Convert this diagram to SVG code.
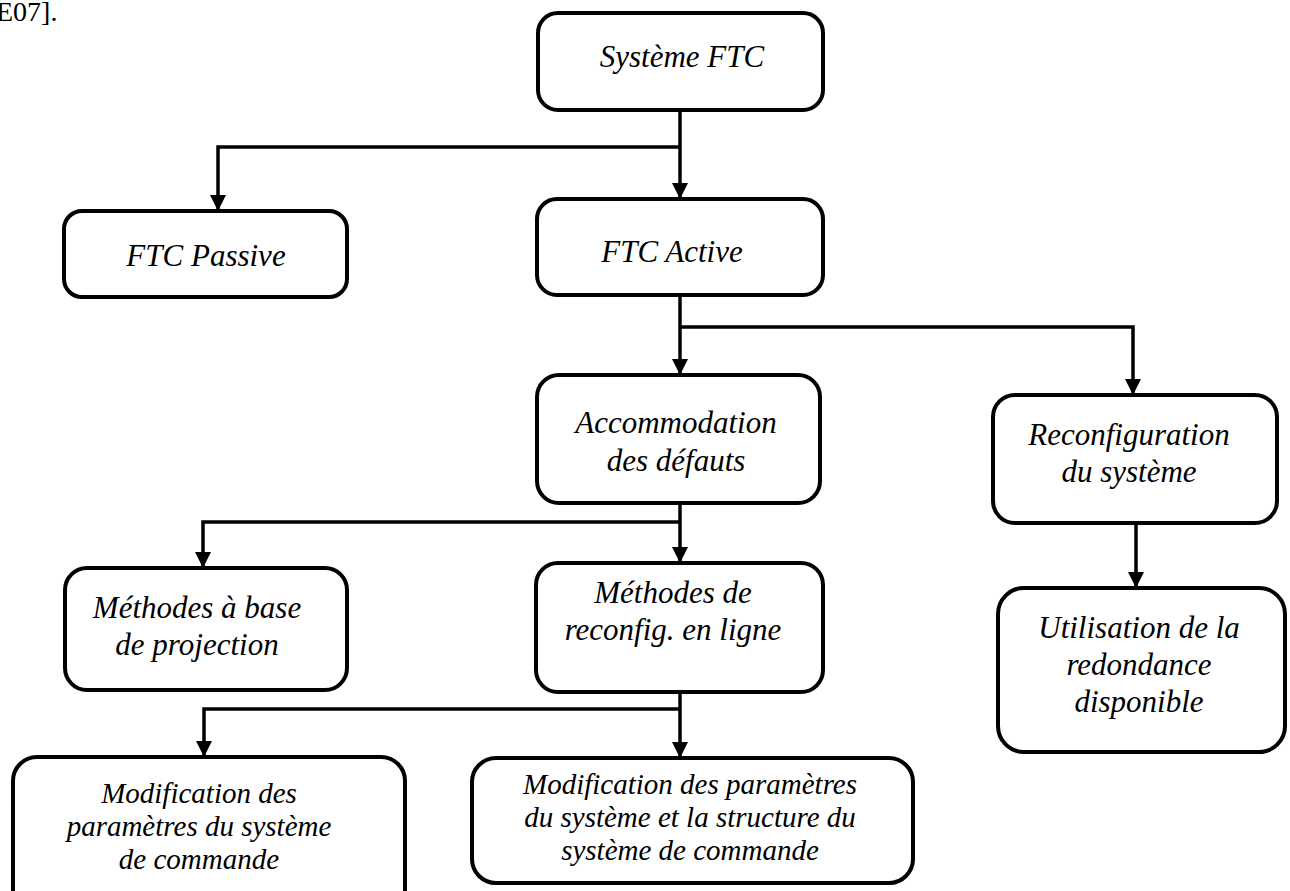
<svg xmlns="http://www.w3.org/2000/svg" width="1290" height="891" viewBox="0 0 1290 891">
  <style>
    .box { fill: #ffffff; stroke: #000000; stroke-width: 4; }
    .lbl { font-family: "Liberation Serif", "Times New Roman", "DejaVu Serif", serif; font-style: italic; font-size: 31px; fill: #000000; text-anchor: middle; }
    .sm { font-size: 29px; }
    .plain { font-family: "Liberation Serif", "Times New Roman", serif; font-size: 28px; fill: #000000; }
    .wire { fill: none; stroke: #000000; stroke-width: 3.5; }
  </style>
  <defs>
    <marker id="arrow" markerUnits="userSpaceOnUse" markerWidth="18" markerHeight="18" refX="16" refY="8" orient="auto">
      <path d="M0,0 L16,8 L0,16 z" fill="#000000"/>
    </marker>
  </defs>
  <rect width="1290" height="891" fill="#ffffff"/>

  <text class="plain" x="-4" y="21">E07].</text>

  <!-- connectors: trunk lines with side branches, each ending in an arrowhead -->
  <g id="connectors">
    <line class="wire" x1="680" y1="110" x2="680" y2="199" marker-end="url(#arrow)"/>
    <polyline class="wire" points="680,147 218,147 218,211" marker-end="url(#arrow)"/>
    <line class="wire" x1="680" y1="295" x2="680" y2="375" marker-end="url(#arrow)"/>
    <polyline class="wire" points="680,327 1133,327 1133,395" marker-end="url(#arrow)"/>
    <line class="wire" x1="680" y1="503" x2="680" y2="563" marker-end="url(#arrow)"/>
    <polyline class="wire" points="680,522 203,522 203,568" marker-end="url(#arrow)"/>
    <line class="wire" x1="680" y1="692" x2="680" y2="758" marker-end="url(#arrow)"/>
    <polyline class="wire" points="680,709 204,709 204,757" marker-end="url(#arrow)"/>
    <line class="wire" x1="1136" y1="523" x2="1136" y2="588" marker-end="url(#arrow)"/>
  </g>

  <g id="systeme-ftc">
    <rect class="box" x="538" y="13" width="285" height="97" rx="20"/>
    <text class="lbl" x="682" y="67">Système FTC</text>
  </g>

  <g id="ftc-passive">
    <rect class="box" x="64" y="211" width="283" height="86" rx="18"/>
    <text class="lbl" x="206" y="266">FTC Passive</text>
  </g>

  <g id="ftc-active">
    <rect class="box" x="537" y="199" width="286" height="96" rx="20"/>
    <text class="lbl" x="672" y="262">FTC Active</text>
  </g>

  <g id="accommodation">
    <rect class="box" x="537" y="375" width="283" height="128" rx="22"/>
    <text class="lbl" x="676" y="433">Accommodation</text>
    <text class="lbl" x="676" y="471">des défauts</text>
  </g>

  <g id="reconfiguration">
    <rect class="box" x="993" y="395" width="284" height="128" rx="22"/>
    <text class="lbl" x="1129" y="445">Reconfiguration</text>
    <text class="lbl" x="1129" y="482">du système</text>
  </g>

  <g id="methodes-projection">
    <rect class="box" x="65" y="568" width="282" height="122" rx="22"/>
    <text class="lbl" x="197" y="618">Méthodes à base</text>
    <text class="lbl" x="197" y="655">de projection</text>
  </g>

  <g id="methodes-reconfig">
    <rect class="box" x="536" y="563" width="287" height="129" rx="22"/>
    <text class="lbl" x="673" y="603">Méthodes de</text>
    <text class="lbl" x="673" y="640">reconfig. en ligne</text>
  </g>

  <g id="utilisation-redondance">
    <rect class="box" x="998" y="588" width="287" height="164" rx="26"/>
    <text class="lbl" x="1139" y="638">Utilisation de la</text>
    <text class="lbl" x="1139" y="675">redondance</text>
    <text class="lbl" x="1139" y="712">disponible</text>
  </g>

  <g id="modification-parametres">
    <rect class="box" x="13" y="757" width="392" height="160" rx="24"/>
    <text class="lbl sm" x="199" y="803">Modification des</text>
    <text class="lbl sm" x="199" y="836">paramètres du système</text>
    <text class="lbl sm" x="199" y="869">de commande</text>
  </g>

  <g id="modification-structure">
    <rect class="box" x="472" y="758" width="441" height="125" rx="24"/>
    <text class="lbl sm" x="690" y="794">Modification des paramètres</text>
    <text class="lbl sm" x="690" y="827">du système et la structure du</text>
    <text class="lbl sm" x="690" y="860">système de commande</text>
  </g>
</svg>
